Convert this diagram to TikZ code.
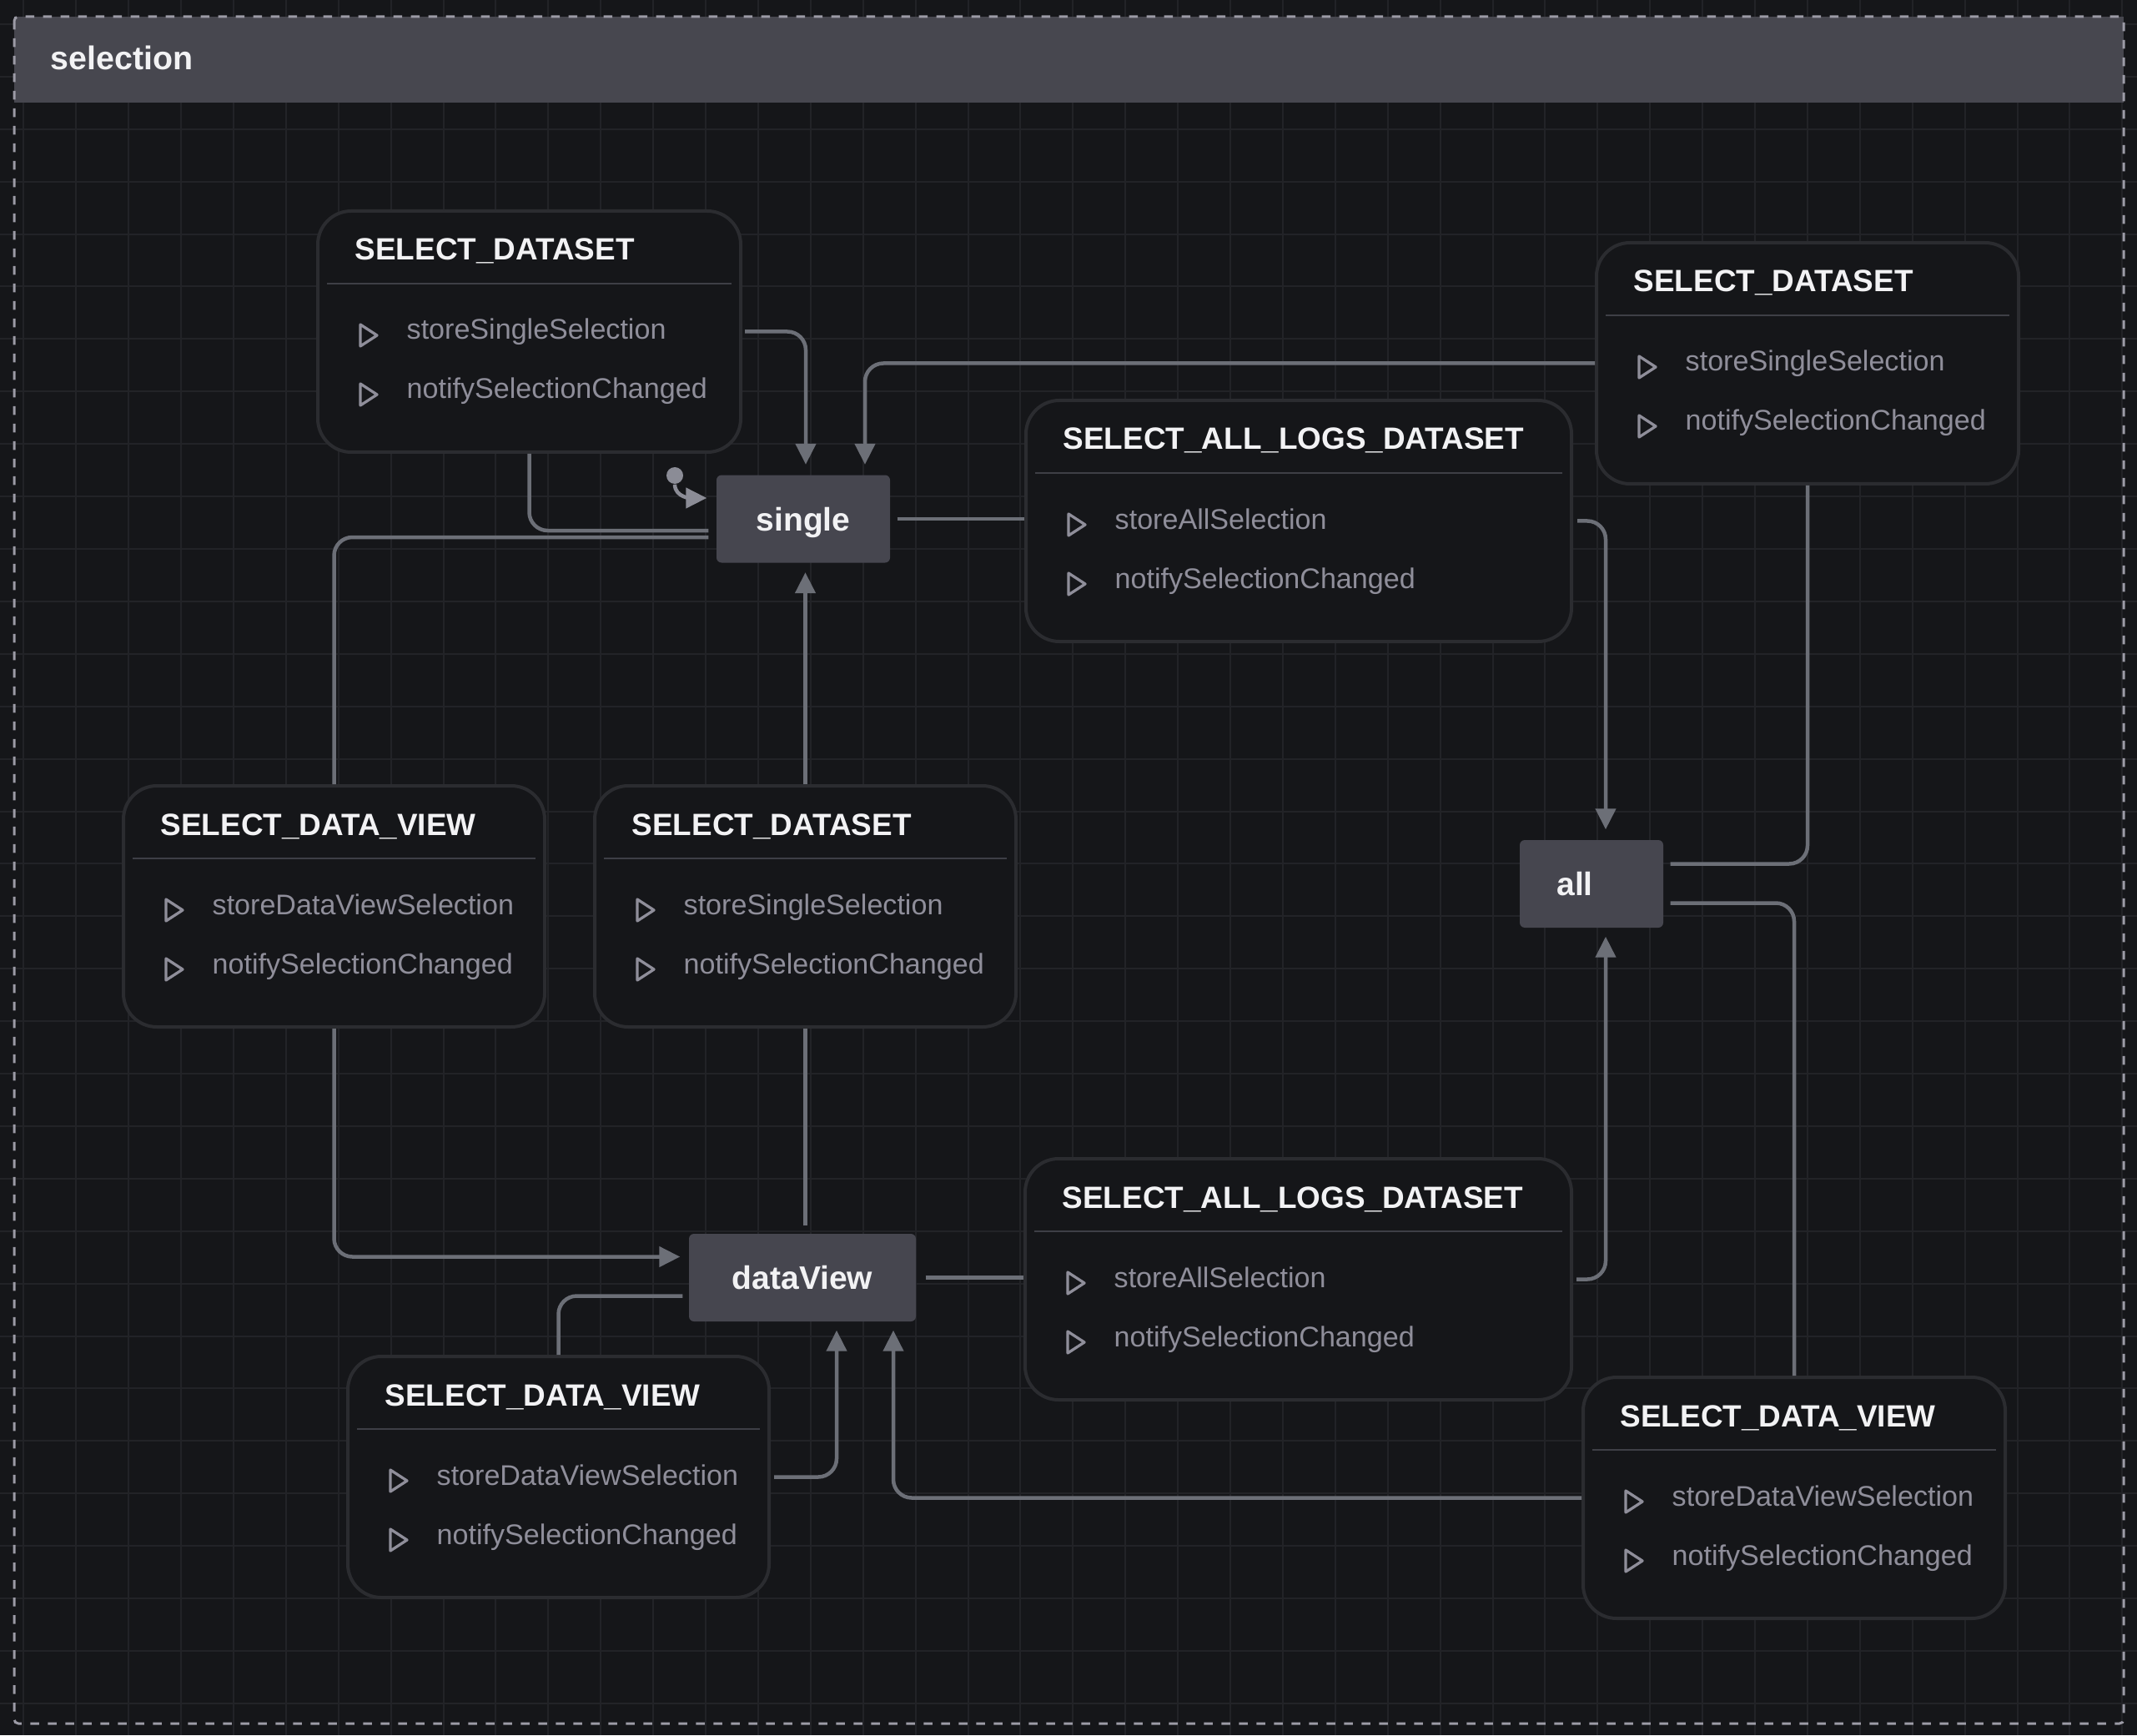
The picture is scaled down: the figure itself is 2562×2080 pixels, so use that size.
\documentclass[tikz,border=0pt]{standalone}
\usepackage{fontspec}
\setmainfont{Liberation Sans}
\usetikzlibrary{arrows.meta, calc}
\definecolor{canvas}{HTML}{151619}
\definecolor{gridln}{HTML}{222327}
\definecolor{hdrgray}{HTML}{47474F}
\definecolor{dashgray}{HTML}{9C9BA6}
\definecolor{boxln}{HTML}{2B2C30}
\definecolor{sepln}{HTML}{3E3F46}
\definecolor{titletxt}{HTML}{F2F2F4}
\definecolor{itemtxt}{HTML}{8F8E9A}
\definecolor{edgegray}{HTML}{6C6F77}
\definecolor{dotgray}{HTML}{8B8C96}
\definecolor{stfill}{HTML}{46464F}

% event box: name, left, top, width, event, first action, second action
\newcommand{\evbox}[7]{%
  \node[evbox, minimum width=#4, anchor=north west] (#1) at (#2,#3) {};
  \node[evtitle] (#1-title) at ($(#1.north west)+(46,61)$) {#5};
  \draw[sepline] ($(#1.north west)+(13,89)$) -- ($(#1.north east)+(-13,89)$);
  \node[evitem] (#1-one) at ($(#1.north west)+(108,156)$) {#6};
  \node[evitem] (#1-two) at ($(#1.north west)+(108,227)$) {#7};
  \draw[evtri] ($(#1.north west)+(53,138)$) -- ++(0,26) -- ++(20,-13) -- cycle;
  \draw[evtri] ($(#1.north west)+(53,209)$) -- ++(0,26) -- ++(20,-13) -- cycle;
}

\begin{document}
\begin{tikzpicture}[x=0.1mm, y=-0.1mm,
  evbox/.style={draw=boxln, line width=0.4mm, fill=canvas, rounded corners=4mm,
    minimum height=28.9mm, inner sep=0pt},
  evtitle/.style={anchor=base west, inner sep=0pt, text=titletxt,
    font=\fontsize{10.5}{12}\selectfont\bfseries},
  evitem/.style={anchor=base west, inner sep=0pt, text=itemtxt,
    font=\fontsize{9.7}{12}\selectfont},
  evtri/.style={draw=itemtxt, line width=0.33mm, line join=round},
  sepline/.style={draw=sepln, line width=0.25mm},
  sttext/.style={inner sep=0pt, text=titletxt, text height=2.8mm, text depth=0pt,
    font=\fontsize{11.1}{13}\selectfont\bfseries},
  stbox/.style={sttext, fill=stfill, rounded corners=0.6mm, minimum height=10.5mm},
  conn/.style={draw=edgegray, line width=0.45mm, rounded corners=2.2mm},
  arr/.style={-{Triangle[length=2.5mm, width=2.4mm]}}]

% Background and grid
\useasboundingbox (0,0) rectangle (2562,2080);
\fill[canvas] (0,0) rectangle (2562,2080);
\foreach \k in {0,...,40}
  \draw[gridln, line width=0.2mm] ({28.3+62.9*\k},0) -- ++(0,2080);
\foreach \k in {0,...,32}
  \draw[gridln, line width=0.2mm] (0,{29+62.9*\k}) -- ++(2562,0);

% --- Machine frame ---
\fill[hdrgray] (17,20) rectangle (2546,123);
\node[anchor=base west, inner sep=0pt, text=titletxt,
  font=\fontsize{11.2}{13}\selectfont\bfseries] (hdr) at (60,84) {selection};
\draw[dashgray, line width=0.3mm, dash pattern=on 1.05mm off 1.05mm,
  rounded corners=0.5mm] (17,20) rectangle (2546,2066);

% --- States ---
\node[stbox, minimum width=20.8mm] (single) at (963,622) {single};
\node[stbox, minimum width=27.2mm] (dataView) at (962,1531.5) {dataView};
\node[stbox, minimum width=17.2mm] (all) at (1908,1059.5) {};
\node[sttext] (all-label) at ($(all.center)+(-20,0)$) {all};

% --- Events ---
\evbox{A}{379}{251}{50.7mm}{SELECT\_DATASET}{storeSingleSelection}{notifySelectionChanged}
\evbox{B}{1228}{478}{65.4mm}{SELECT\_ALL\_LOGS\_DATASET}{storeAllSelection}{notifySelectionChanged}
\evbox{C}{1912}{289}{50.6mm}{SELECT\_DATASET}{storeSingleSelection}{notifySelectionChanged}
\evbox{D}{146}{940}{50.5mm}{SELECT\_DATA\_VIEW}{storeDataViewSelection}{notifySelectionChanged}
\evbox{E}{711}{940}{50.5mm}{SELECT\_DATASET}{storeSingleSelection}{notifySelectionChanged}
\evbox{F}{1227}{1387}{65.5mm}{SELECT\_ALL\_LOGS\_DATASET}{storeAllSelection}{notifySelectionChanged}
\evbox{G}{415}{1624}{50.5mm}{SELECT\_DATA\_VIEW}{storeDataViewSelection}{notifySelectionChanged}
\evbox{H}{1896}{1649}{50.6mm}{SELECT\_DATA\_VIEW}{storeDataViewSelection}{notifySelectionChanged}

% Initial state marker
\node[circle, fill=dotgray, minimum size=2mm, inner sep=0pt] (init) at (809,570) {};
\draw[conn, draw=dotgray, arr] (init.south) to[out=-90, in=180] ($(single.west)+(-11,-25)$);

% --- Transitions from single ---
\draw[conn] ($(single.west)+(-9,14)$) -| (A.south);
\draw[conn, arr] ($(A.east)+(3,0)$) -| ($(single.north)+(3,-12)$);
\draw[conn] ($(single.west)+(-9,22)$) -| (D.north);
\draw[conn, arr] (D.south) |- ($(dataView.west)+(-10,-25)$);
\draw[conn] ($(single.east)+(8,0)$) -- (single.east -| B.west);
\draw[conn, arr] ($(B.east)+(5,0)$) -| ($(all.north)+(17,-12)$);

% --- Transitions from all ---
\draw[conn] ($(all.east)+(8,-24)$) -| (C.south);
\draw[conn, arr] (C.west) -| ($(single.north)+(74,-12)$);
\draw[conn] ($(all.east)+(8,23)$) -| (H.north);
\draw[conn, arr] (H.west) -| ($(dataView.south)+(109,10)$);

% --- Transitions from dataView ---
\draw[conn] ($(dataView.west)+(-7,22)$) -| (G.north);
\draw[conn, arr] ($(G.east)+(4,0)$) -| ($(dataView.south)+(41,10)$);
\draw[conn] ($(E.south |- dataView.north)+(0,-9)$) -- (E.south);
\draw[conn, arr] (E.north) -- ($(E.north |- single.south)+(0,11)$);
\draw[conn] ($(dataView.east)+(11,0)$) -- (dataView.east -| F.west);
\draw[conn, arr] ($(F.east)+(4,0)$) -| ($(all.south)+(17,10)$);

\end{tikzpicture}
\end{document}
